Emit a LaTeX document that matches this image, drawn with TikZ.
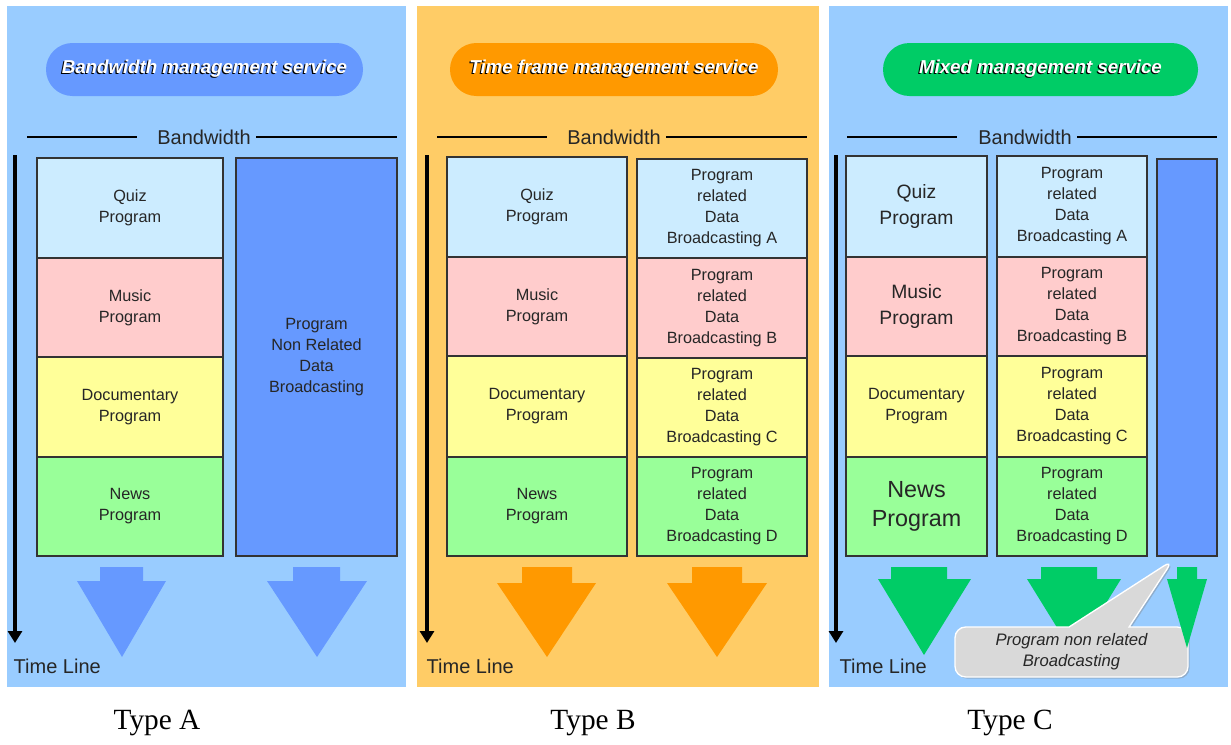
\documentclass[tikz,border=0pt]{standalone}
\usepackage{fontspec}
\setmainfont{Liberation Serif}
\setsansfont{Liberation Sans}
\usetikzlibrary{arrows.meta,shapes.callouts,shadows}
\definecolor{PanelBlue}{HTML}{99CCFF}
\definecolor{PanelOrange}{HTML}{FFCC66}
\definecolor{QuizBlue}{HTML}{CCECFF}
\definecolor{MusicPink}{HTML}{FFCCCC}
\definecolor{DocuYellow}{HTML}{FFFF99}
\definecolor{NewsGreen}{HTML}{99FF99}
\definecolor{DataBlue}{HTML}{6699FF}
\definecolor{TimeOrange}{HTML}{FF9900}
\definecolor{MixGreen}{HTML}{00CC66}
\definecolor{NoteGray}{HTML}{D9D9D9}

% white title text with a dark shadow
\newcommand{\shadowed}[1]{\makebox[0pt][l]{\hspace{-0.9pt}\raisebox{-0.9pt}{\color{black}#1}}{\color{white}#1}}

\tikzset{
  cell/.style={draw=black!80, line width=0.9pt},
  celltext/.style={font=\sffamily\fontsize{12.2}{15.75}\selectfont, align=center, text=black!85},
  pill/.style={rounded corners=19.8pt, minimum height=39.75pt, inner sep=0pt,
    font=\sffamily\bfseries\itshape\fontsize{14}{16}\selectfont},
  bandline/.style={line width=2.2pt},
  axislabel/.style={font=\sffamily\fontsize{15}{18}\selectfont, text=black!85},
  timeaxis/.style={line width=2.8pt, -{Triangle[length=9pt,width=10.5pt]}},
  typelabel/.style={font=\fontsize{22}{26}\selectfont},
}

\begin{document}
\begin{tikzpicture}[x=0.75pt, y=-0.75pt]
\useasboundingbox[fill=white] (0,0) rectangle (1231,744);

% Panel backgrounds
\fill[PanelBlue] (7,6) rectangle (406,687);
\fill[PanelOrange] (417,6) rectangle (819,687);
\fill[PanelBlue] (829,6) rectangle (1228,687);

% Titles
\node[pill, fill=DataBlue, minimum width=237.75pt] (apill) at (204.5,69.5) {\shadowed{Bandwidth management service}};
\node[pill, fill=TimeOrange, minimum width=246pt] (bpill) at (614,69.5) {\shadowed{Time frame management service}};
\node[pill, fill=MixGreen, minimum width=236.25pt] (cpill) at (1040.5,69.5) {\shadowed{Mixed management service}};

% Bandwidth axes
\node[axislabel] (aband) at (204,137) {Bandwidth};
\draw[bandline] (27,137) -- (137,137);
\draw[bandline] (256,137) -- (397,137);
\node[axislabel] (bband) at (614,137) {Bandwidth};
\draw[bandline] (437,137) -- (547,137);
\draw[bandline] (666,137) -- (807,137);
\node[axislabel] (cband) at (1025,137) {Bandwidth};
\draw[bandline] (847,137) -- (957,137);
\draw[bandline] (1077,137) -- (1217,137);

% Time axes
\draw[timeaxis] (15,155) -- (15,643);
\node[axislabel, anchor=west] (atime) at (9,666) {Time Line};
\draw[timeaxis] (427,155) -- (427,643);
\node[axislabel, anchor=west] (btime) at (422,666) {Time Line};
\draw[timeaxis] (836,155) -- (836,643);
\node[axislabel, anchor=west] (ctime) at (835,666) {Time Line};

% Type A
\draw[cell, fill=QuizBlue] (37,158) rectangle node[celltext] (aquiz) {Quiz\\Program} (223,258);
\draw[cell, fill=MusicPink] (37,258) rectangle node[celltext] (amusic) {Music\\Program} (223,357);
\draw[cell, fill=DocuYellow] (37,357) rectangle node[celltext] (adocu) {Documentary\\Program} (223,457);
\draw[cell, fill=NewsGreen] (37,457) rectangle node[celltext] (anews) {News\\Program} (223,556);
\draw[cell, fill=DataBlue] (236,158) rectangle node[celltext] (adata) {Program\\Non Related\\Data\\Broadcasting} (397,556);

% Type B
\draw[cell, fill=QuizBlue] (447,157) rectangle node[celltext] (bquiz) {Quiz\\Program} (627,257);
\draw[cell, fill=MusicPink] (447,257) rectangle node[celltext] (bmusic) {Music\\Program} (627,356);
\draw[cell, fill=DocuYellow] (447,356) rectangle node[celltext] (bdocu) {Documentary\\Program} (627,457);
\draw[cell, fill=NewsGreen] (447,457) rectangle node[celltext] (bnews) {News\\Program} (627,556);
\draw[cell, fill=QuizBlue] (637,159) rectangle node[celltext] (bdataa) {Program\\related\\Data\\Broadcasting A} (807,258);
\draw[cell, fill=MusicPink] (637,258) rectangle node[celltext] (bdatab) {Program\\related\\Data\\Broadcasting B} (807,358);
\draw[cell, fill=DocuYellow] (637,358) rectangle node[celltext] (bdatac) {Program\\related\\Data\\Broadcasting C} (807,457);
\draw[cell, fill=NewsGreen] (637,457) rectangle node[celltext] (bdatad) {Program\\related\\Data\\Broadcasting D} (807,556);

% Type C
\draw[cell, fill=QuizBlue] (846,156) rectangle node[celltext, font=\sffamily\fontsize{14.5}{20}\selectfont] (cquiz) {Quiz\\Program} (987,257);
\draw[cell, fill=MusicPink] (846,257) rectangle node[celltext, font=\sffamily\fontsize{14.5}{20}\selectfont] (cmusic) {Music\\Program} (987,356);
\draw[cell, fill=DocuYellow] (846,356) rectangle node[celltext] (cdocu) {Documentary\\Program} (987,457);
\draw[cell, fill=NewsGreen] (846,457) rectangle node[celltext, font=\sffamily\fontsize{17.5}{22}\selectfont] (cnews) {News\\Program} (987,556);
\draw[cell, fill=QuizBlue] (997,156) rectangle node[celltext] (cdataa) {Program\\related\\Data\\Broadcasting A} (1147,257);
\draw[cell, fill=MusicPink] (997,257) rectangle node[celltext] (cdatab) {Program\\related\\Data\\Broadcasting B} (1147,356);
\draw[cell, fill=DocuYellow] (997,356) rectangle node[celltext] (cdatac) {Program\\related\\Data\\Broadcasting C} (1147,457);
\draw[cell, fill=NewsGreen] (997,457) rectangle node[celltext] (cdatad) {Program\\related\\Data\\Broadcasting D} (1147,556);
\draw[cell, fill=DataBlue] (1157,159) rectangle (1217,556);

% Block arrows
\fill[DataBlue] (100,567) -- (143,567) -- (143,581) -- (166,581) -- (122,657) -- (77,581) -- (100,581) -- cycle;
\fill[DataBlue] (293,567) -- (340,567) -- (340,581) -- (367,581) -- (317,657) -- (267,581) -- (293,581) -- cycle;
\fill[TimeOrange] (522,567) -- (572,567) -- (572,583) -- (596,583) -- (547,657) -- (497,583) -- (522,583) -- cycle;
\fill[TimeOrange] (692,567) -- (742,567) -- (742,583) -- (767,583) -- (717,657) -- (667,583) -- (692,583) -- cycle;
\fill[MixGreen] (891,567) -- (947,567) -- (947,579) -- (971,579) -- (924,655) -- (878,579) -- (891,579) -- cycle;
\fill[MixGreen] (1041,567) -- (1097,567) -- (1097,579) -- (1121,579) -- (1074,655) -- (1027,579) -- (1041,579) -- cycle;

% Note
\node[rectangle callout, callout absolute pointer={(1173,560)}, callout pointer width=45pt,
  fill=NoteGray, draw=white, line width=1pt, rounded corners=8pt,
  minimum width=174.75pt, minimum height=37.5pt, inner sep=0pt,
  drop shadow={shadow xshift=1.2pt, shadow yshift=-1.2pt, opacity=0.4},
  align=center, text=black!85, font=\sffamily\itshape\fontsize{12.5}{15.75}\selectfont]
  (cnote) at (1071.5,652) {Program non related\\Broadcasting};

\fill[MixGreen] (1177,567) -- (1197,567) -- (1197,579) -- (1207,579) -- (1187,648) -- (1167,579) -- (1177,579) -- cycle;

% Type labels
\node[typelabel] (typea) at (157,723) {Type A};
\node[typelabel] (typeb) at (593,723) {Type B};
\node[typelabel] (typec) at (1010,723) {Type C};
\end{tikzpicture}
\end{document}
